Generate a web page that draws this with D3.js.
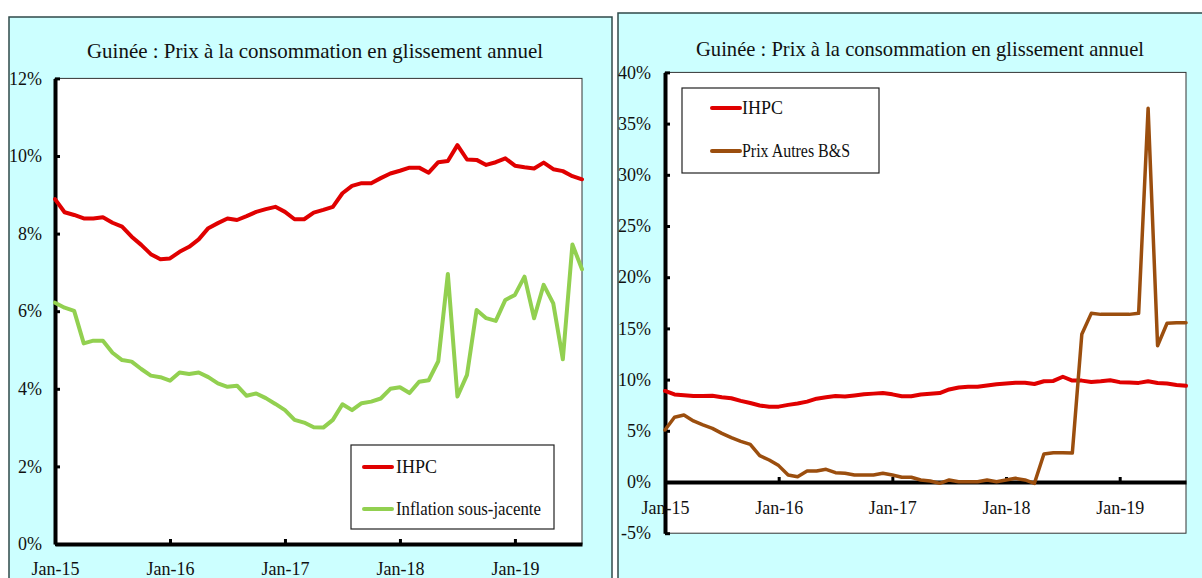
<!DOCTYPE html>
<html>
<head>
<meta charset="utf-8">
<script src="https://cdn.jsdelivr.net/npm/d3@7"></script>
<style>
  html, body { margin: 0; padding: 0; background: #ffffff; }
  svg { display: block; }
</style>
</head>
<body>
<svg id="chart" width="1202" height="578"></svg>
<script>
// Monthly year-on-year rates, Jan 2015 – Aug 2019 (in %)
const monthCount = 56;
const xTickIndex = [0, 12, 24, 36, 48];
const xTickLabels = ["Jan-15", "Jan-16", "Jan-17", "Jan-18", "Jan-19"];

const ihpc = [8.89, 8.55, 8.48, 8.39, 8.39, 8.42, 8.28, 8.18, 7.92, 7.71,
  7.47, 7.34, 7.36, 7.53, 7.66, 7.85, 8.14, 8.27, 8.39, 8.35,
  8.45, 8.56, 8.63, 8.69, 8.56, 8.37, 8.37, 8.54, 8.61, 8.69,
  9.04, 9.23, 9.30, 9.30, 9.43, 9.55, 9.62, 9.70, 9.70, 9.57,
  9.84, 9.87, 10.28, 9.91, 9.90, 9.77, 9.84, 9.94, 9.75, 9.71,
  9.68, 9.83, 9.66, 9.61, 9.48, 9.40];

const inflationSousJacente = [6.22, 6.09, 6.01, 5.17, 5.24, 5.24, 4.93, 4.74, 4.70, 4.51,
  4.34, 4.30, 4.21, 4.42, 4.38, 4.42, 4.30, 4.14, 4.05, 4.08,
  3.82, 3.88, 3.76, 3.61, 3.45, 3.20, 3.13, 3.01, 3.00, 3.20,
  3.60, 3.45, 3.63, 3.67, 3.75, 4.00, 4.04, 3.89, 4.18, 4.22,
  4.71, 6.96, 3.80, 4.36, 6.03, 5.82, 5.75, 6.29, 6.42, 6.89,
  5.82, 6.68, 6.20, 4.76, 7.72, 7.08];

const prixAutresBS = [5.08, 6.32, 6.54, 5.96, 5.57, 5.24, 4.75, 4.33, 3.97, 3.68,
  2.57, 2.15, 1.60, 0.68, 0.52, 1.07, 1.07, 1.24, 0.91, 0.85,
  0.68, 0.68, 0.68, 0.85, 0.68, 0.46, 0.46, 0.20, 0.10, -0.13,
  0.20, 0.03, 0.03, 0.03, 0.20, 0.03, 0.20, 0.36, 0.20, -0.13,
  2.73, 2.86, 2.86, 2.83, 14.42, 16.47, 16.37, 16.37, 16.37, 16.37,
  16.47, 36.49, 13.31, 15.50, 15.56, 15.56];

const leftYTicks = [0, 2, 4, 6, 8, 10, 12];
const rightYTicks = [-5, 0, 5, 10, 15, 20, 25, 30, 35, 40];

const titleText = "Guinée : Prix à la consommation en glissement annuel";

const RED = "#e00000";
const GREEN = "#92d050";
const BROWN = "#9b4e0e";
const PANEL_BG = "#ccffff";
const SERIF = '"Liberation Serif", "Times New Roman", Times, "DejaVu Serif", serif';

const svg = d3.select("#chart");

function drawPanel(cfg) {
  const g = svg.append("g");

  // panel background and frame
  g.append("rect")
    .attr("x", cfg.panel.x).attr("y", cfg.panel.y)
    .attr("width", cfg.panel.w).attr("height", cfg.panel.h)
    .attr("fill", PANEL_BG).attr("stroke", "#2f4a4a").attr("stroke-width", 1.5);

  g.append("text")
    .attr("x", cfg.titleX).attr("y", cfg.titleY)
    .attr("text-anchor", "middle")
    .style("font-family", SERIF).style("font-size", "22px").style("fill", "#111")
    .attr("textLength", cfg.titleLen).attr("lengthAdjust", "spacingAndGlyphs")
    .text(titleText);

  const x = d3.scaleLinear().domain([0, monthCount - 1]).range([cfg.plot.x0, cfg.plot.x1]);
  const y = d3.scaleLinear().domain(cfg.yDomain).range([cfg.plot.y1, cfg.plot.y0]);

  // plot area
  g.append("rect")
    .attr("x", cfg.plot.x0).attr("y", cfg.plot.y0)
    .attr("width", cfg.plot.x1 - cfg.plot.x0).attr("height", cfg.plot.y1 - cfg.plot.y0)
    .attr("fill", "#ffffff").attr("stroke", "#333").attr("stroke-width", 1);

  // y axis
  const yAxis = g.append("g")
    .attr("transform", `translate(${cfg.plot.x0},0)`)
    .call(d3.axisLeft(y).tickValues(cfg.yTicks).tickFormat(d => d + "%")
      .tickSizeInner(-5).tickSizeOuter(0).tickPadding(cfg.yPad));
  yAxis.select(".domain").attr("stroke", "#000").attr("stroke-width", 4);
  yAxis.selectAll(".tick line").attr("stroke", "#000").attr("stroke-width", 3);
  yAxis.selectAll(".tick text")
    .style("font-family", SERIF).style("font-size", "18px").style("fill", "#111");

  // x axis along the 0% line
  const xAxis = g.append("g")
    .attr("transform", `translate(0,${y(0)})`)
    .call(d3.axisBottom(x).tickValues(xTickIndex)
      .tickFormat((d, i) => xTickLabels[i])
      .tickSizeInner(-5).tickSizeOuter(0).tickPadding(cfg.xPad));
  xAxis.select(".domain").attr("stroke", "#000").attr("stroke-width", 4);
  xAxis.selectAll(".tick line").attr("stroke", "#000").attr("stroke-width", 3);
  xAxis.selectAll(".tick text")
    .style("font-family", SERIF).style("font-size", "18px").style("fill", "#111");

  // series
  const line = d3.line().x((d, i) => x(i)).y(d => y(d)).curve(d3.curveLinear);
  cfg.series.forEach(s => {
    g.append("path")
      .datum(s.values)
      .attr("fill", "none")
      .attr("stroke", s.color)
      .attr("stroke-width", s.width)
      .attr("stroke-linejoin", "round")
      .attr("stroke-linecap", "round")
      .attr("d", line);
  });

  // legend
  const L = cfg.legend;
  g.append("rect")
    .attr("x", L.x).attr("y", L.y).attr("width", L.w).attr("height", L.h)
    .attr("fill", "#ffffff").attr("stroke", "#222").attr("stroke-width", 1.2);
  cfg.series.forEach((s, i) => {
    const ly = L.rows[i];
    g.append("line")
      .attr("x1", L.lx0).attr("x2", L.lx1).attr("y1", ly).attr("y2", ly)
      .attr("stroke", s.color).attr("stroke-width", 4).attr("stroke-linecap", "round");
    const t = g.append("text")
      .attr("x", L.tx).attr("y", ly + 6)
      .style("font-family", SERIF).style("font-size", "18px").style("fill", "#111")
      .text(s.name);
    if (s.legendLen) t.attr("textLength", s.legendLen).attr("lengthAdjust", "spacingAndGlyphs");
  });
}

drawPanel({
  panel: { x: 9, y: 17, w: 603, h: 600 },
  titleX: 315, titleY: 58, titleLen: 456,
  plot: { x0: 55, x1: 582, y0: 78.4, y1: 544 },
  yDomain: [0, 12], yTicks: leftYTicks, yPad: 13, xPad: 18,
  series: [
    { name: "IHPC", values: ihpc, color: RED, width: 4 },
    { name: "Inflation sous-jacente", values: inflationSousJacente, color: GREEN, width: 4, legendLen: 145 }
  ],
  legend: { x: 351, y: 445, w: 203, h: 84, rows: [467, 509], lx0: 364, lx1: 392, tx: 396 }
});

drawPanel({
  panel: { x: 618, y: 13, w: 620, h: 600 },
  titleX: 920, titleY: 56, titleLen: 448,
  plot: { x0: 665, x1: 1186, y0: 72.4, y1: 533.2 },
  yDomain: [-5, 40], yTicks: rightYTicks, yPad: 14, xPad: 19,
  series: [
    { name: "IHPC", values: ihpc, color: RED, width: 4 },
    { name: "Prix Autres B&S", values: prixAutresBS, color: BROWN, width: 3.5, legendLen: 108 }
  ],
  legend: { x: 682, y: 88, w: 197, h: 85, rows: [108, 151], lx0: 712, lx1: 740, tx: 742 }
});
</script>
</body>
</html>
